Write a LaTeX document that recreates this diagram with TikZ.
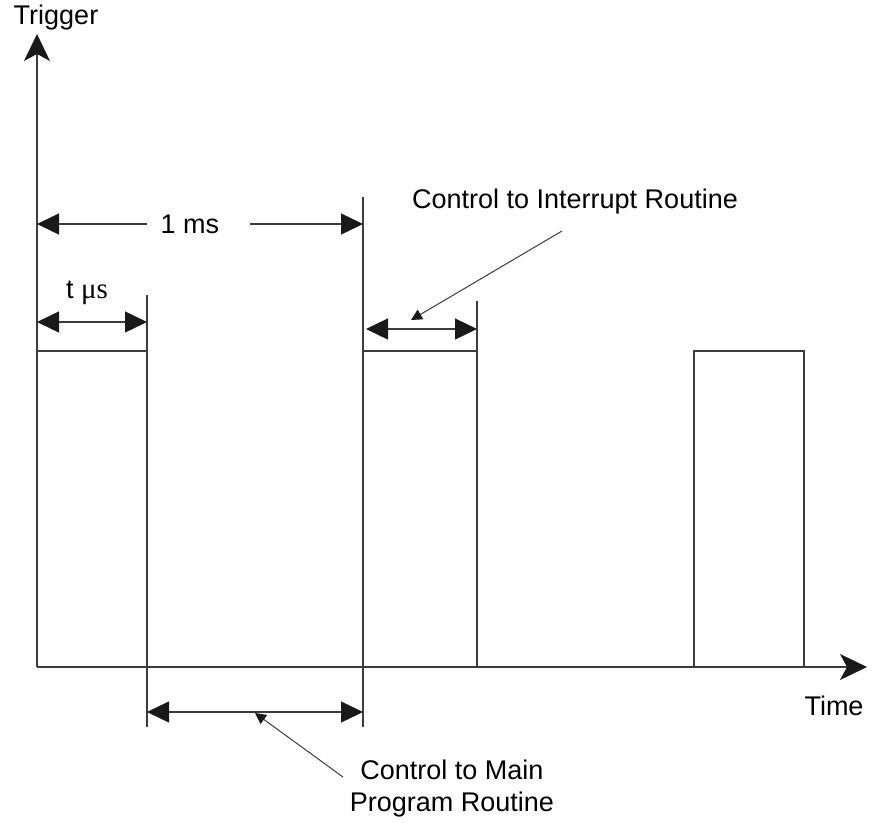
\documentclass[tikz,border=0pt]{standalone}
\usepackage{fontspec}
\setmainfont{Liberation Sans}
\newfontfamily\timesfont{Liberation Serif}
\usepackage{tikz}
\usetikzlibrary{arrows.meta,positioning}
\definecolor{ink}{HTML}{3C3C3C}

\begin{document}
\begin{tikzpicture}[x=1pt,y=-1pt,
  every node/.style={font=\fontsize{27}{32}\selectfont,text=black,align=center,inner sep=0pt},
  axis/.style={line width=1.4pt,ink,-{Stealth[length=27pt,width=26pt,inset=7pt,color=black!90]}},
  edge/.style={line width=1.3pt,ink},
  dimend/.style={line width=1.3pt,ink,-{Triangle[length=22pt,width=21pt,color=black!90]}},
  dim/.style={line width=1.3pt,ink,{Triangle[length=22pt,width=21pt,color=black!90]}-{Triangle[length=22pt,width=21pt,color=black!90]}},
  pointer/.style={line width=1pt,ink,-{Triangle[length=11pt,width=11pt,color=black!90]}}]
  \useasboundingbox (0,0) rectangle (880,822);
  % axes
  \coordinate (o) at (37,667);
  \coordinate (ytop) at (37,34);
  \coordinate (xend) at (867,667);
  \draw[axis] (o) -- (ytop);
  \draw[axis] (o) -- (xend);
  \node (trig) at (56,18) {Trigger};
  \node (time) at (834,706) {Time};
  % pulses
  \draw[edge] (37,351) -- (147,351);
  \draw[edge] (147,295) -- (147,727);
  \draw[edge] (363,197) -- (363,727);
  \draw[edge] (363,351) -- (477,351) (477,301) -- (477,667);
  \draw[edge] (694,667) -- (694,351) -- (804,351) -- (804,667);
  % 1 ms
  \node (ms) at (190,224) {1 ms};
  \coordinate (msl) at (147,224);
  \coordinate (msr) at (250,224);
  \draw[dimend] (msl) -- (37,224);
  \draw[dimend] (msr) -- (363,224);
  % t mus
  \node (tus) at (87,293) {t {\timesfont\fontsize{29}{32}\selectfont μs}};
  \draw[dim] (37,322) -- (147,322);
  % interrupt
  \coordinate (il) at (366,329);
  \coordinate (ir) at (477,329);
  \draw[dim] (il) -- (ir);
  \node (intr) at (575,202) {Control to Interrupt Routine};
  \draw[pointer] (562,231) -- (411,320);
  % main program
  \coordinate (ml) at (147,712);
  \coordinate (mr) at (363,712);
  \draw[dim] (ml) -- (mr);
  \node (main) at (452,789) {Control to Main\\Program Routine};
  \draw[pointer] (343,777) -- (255,713);
\end{tikzpicture}
\end{document}
